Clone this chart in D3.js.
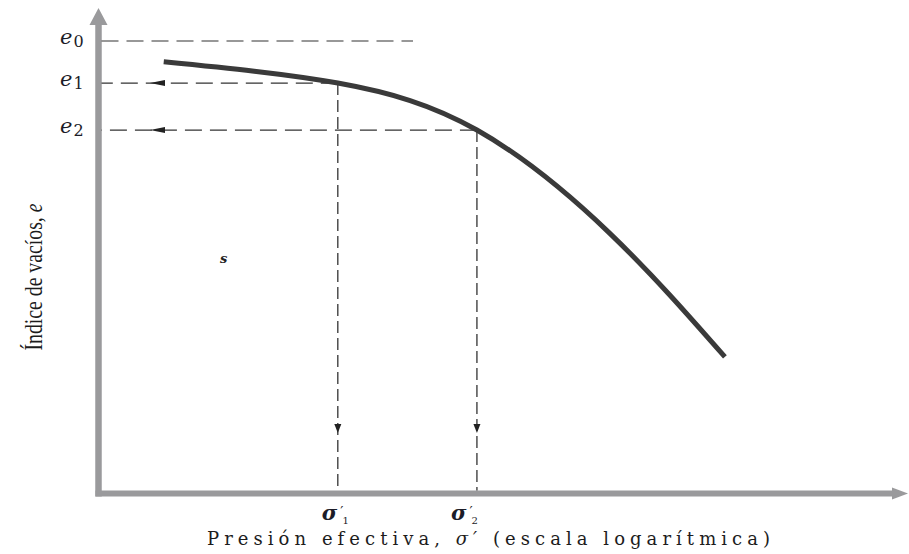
<!DOCTYPE html>
<html>
<head>
<meta charset="utf-8">
<script src="https://cdn.jsdelivr.net/npm/d3@7"></script>
<style>
  html, body { margin: 0; padding: 0; background: #fff; }
  svg { display: block; }
</style>
</head>
<body>
<div id="chart"></div>
<script>
// Compression curve: void ratio e against effective pressure (log scale)
const sigmaValues = [1.45, 4.0, 9.0, 19.5, 38.2];
const eValues     = [0.954, 0.907, 0.803, 0.575, 0.301];

// Reference states
const eLevels      = [1.0, 0.907, 0.803];      // e0, e1, e2
const eLabels      = ["0", "1", "2"];
const sigmaMarks   = [4.0, 9.0];               // σ'1, σ'2
const sigmaMarkE   = [0.907, 0.803];
const sigmaLabels  = ["1", "2"];
const e0LineEnd    = 6.2;                       // pressure where the e0 guide stops

const xTitleParts = ["Presión efectiva, ", "σ′", " (escala logarítmica)"];
const yTitle = "Índice de vacíos, e";

const W = 909, H = 554;
const x0 = 98.5, y0 = 493.5;

const x = d3.scaleLog().domain([1, 100]).range([100, 890]);
const y = d3.scaleLinear().domain([0, 1]).range([493, 41]);

const svg = d3.select("#chart").append("svg")
  .attr("width", W).attr("height", H);

const axisColor = "#9a9a9c";
const ink = "#333";

// Axes drawn as thick grey arrows
svg.append("line").attr("x1", x0).attr("x2", x0).attr("y1", y0 + 3).attr("y2", 22)
  .attr("stroke", axisColor).attr("stroke-width", 6.5);
svg.append("path").attr("d", `M${x0},8 L${x0 + 9},25 L${x0 - 9},25 Z`).attr("fill", axisColor);

svg.append("line").attr("x1", x0 - 3).attr("x2", 895).attr("y1", y0).attr("y2", y0)
  .attr("stroke", axisColor).attr("stroke-width", 6);
svg.append("path").attr("d", `M908,${y0} L892,${y0 - 6} L892,${y0 + 6} Z`).attr("fill", axisColor);

const dashH = "17,8";
const dashV = "12,5";

// e0 guide
svg.append("line")
  .attr("x1", x0 + 3).attr("x2", x(e0LineEnd))
  .attr("y1", y(eLevels[0])).attr("y2", y(eLevels[0]))
  .attr("stroke", ink).attr("stroke-width", 1.2).attr("stroke-dasharray", dashH);

// e1, e2 guides: from curve back to the axis, with arrowheads
sigmaMarks.forEach((s, i) => {
  const yy = y(sigmaMarkE[i]);
  const xx = x(s);
  svg.append("line")
    .attr("x1", xx).attr("x2", x0 + 3).attr("y1", yy).attr("y2", yy)
    .attr("stroke", ink).attr("stroke-width", 1.2).attr("stroke-dasharray", dashH);
  svg.append("path")
    .attr("d", `M150,${yy} L165,${yy - 3} L165,${yy + 3} Z`).attr("fill", "#222");

  // vertical drop to σ axis
  svg.append("line")
    .attr("x1", xx).attr("x2", xx).attr("y1", yy).attr("y2", y0 - 3)
    .attr("stroke", ink).attr("stroke-width", 1.3).attr("stroke-dasharray", dashV);
  const ya = y(0.133);
  svg.append("path")
    .attr("d", `M${xx},${ya} L${xx - 3.5},${ya - 9} L${xx + 3.5},${ya - 9} Z`).attr("fill", "#222");
});

// Compression curve
const pts = sigmaValues.map((s, i) => [x(s), y(eValues[i])]);
svg.append("path")
  .attr("d", d3.line().curve(d3.curveNatural)(pts))
  .attr("fill", "none").attr("stroke", "#3a3a3a").attr("stroke-width", 5)
  .attr("stroke-linecap", "butt");

// e labels
const serif = "'DejaVu Serif', 'Liberation Serif', serif";
const tserif = "'Liberation Serif', serif";
eLevels.forEach((e, i) => {
  const t = svg.append("text")
    .attr("x", 60).attr("y", y(e) + 3)
    .attr("font-family", serif).attr("fill", "#1c1c28");
  t.append("tspan").attr("font-style", "italic").attr("font-size", 21).text("e");
  t.append("tspan").attr("font-size", 16).attr("dy", 3).attr("dx", 1).text(eLabels[i]);
});

// σ' labels
sigmaMarks.forEach((s, i) => {
  const xx = x(s) - 16 - i * 10;
  const t = svg.append("text").attr("x", xx).attr("y", 520)
    .attr("font-family", serif).attr("fill", "#1c1c28");
  t.append("tspan").attr("font-style", "italic").attr("font-weight", "bold")
    .attr("font-size", 21).text("σ");
  t.append("tspan").attr("font-size", 14).attr("dy", -3).attr("dx", 3).text("′");
  t.append("tspan").attr("font-size", 10).attr("dy", 7).attr("dx", -1).text(sigmaLabels[i]);
});

// stray mark
svg.append("text").attr("x", 220).attr("y", 263)
  .attr("font-family", serif).attr("font-style", "italic").attr("font-weight", "bold")
  .attr("font-size", 13).attr("fill", "#222").text("s");

// Axis titles
const xt = svg.append("text")
  .attr("x", 207).attr("y", 545)
  .attr("font-family", serif).attr("font-size", 18).attr("fill", "#1c1c1c")
  .attr("textLength", 563).attr("lengthAdjust", "spacing");
xt.append("tspan").text(xTitleParts[0]);
xt.append("tspan").attr("font-style", "italic").text(xTitleParts[1]);
xt.append("tspan").text(xTitleParts[2]);

const yt = svg.append("text")
  .attr("transform", "translate(42,277) rotate(-90)")
  .attr("text-anchor", "middle")
  .attr("font-family", tserif).attr("font-size", 25).attr("fill", "#1c1c1c")
  .attr("textLength", 147).attr("lengthAdjust", "spacingAndGlyphs");
yt.append("tspan").text(yTitle.slice(0, -1));
yt.append("tspan").attr("font-style", "italic").text(yTitle.slice(-1));
</script>
</body>
</html>
